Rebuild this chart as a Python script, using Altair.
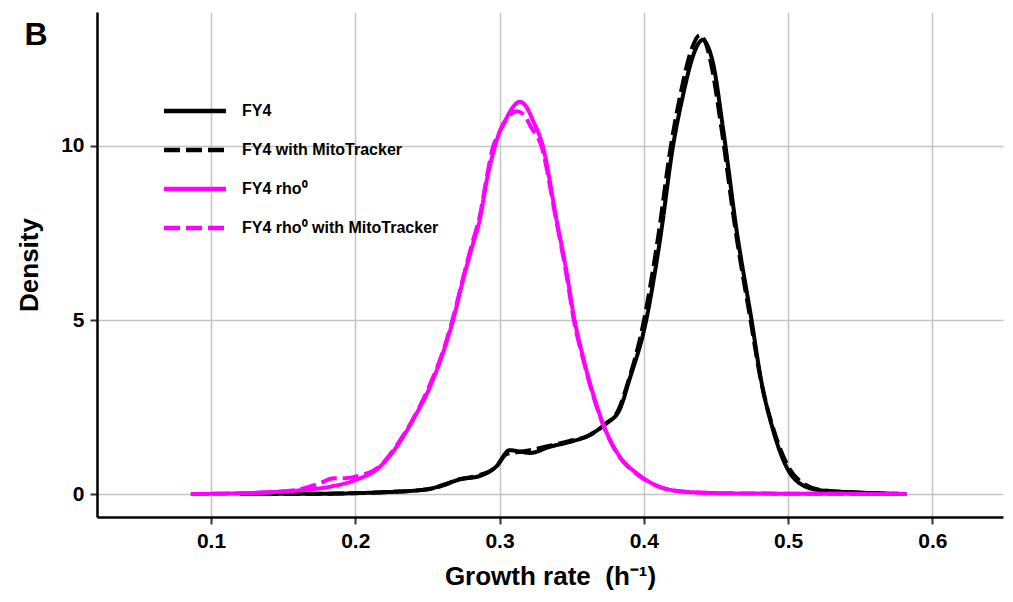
import altair as alt
import pandas as pd

series_names = ["FY4", "FY4 with MitoTracker", "FY4 rho\u2070", "FY4 rho\u2070 with MitoTracker"]
series_colors = ["#000000", "#000000", "#ff00ff", "#ff00ff"]
series_dash = [[1, 0], [16, 6], [1, 0], [16, 6]]

x_ticks = [0.1, 0.2, 0.3, 0.4, 0.5, 0.6]
y_ticks = [0, 5, 10]

# FY4 (solid black)
fy4_x = [0.12, 0.15, 0.18, 0.205, 0.23, 0.242, 0.252, 0.262, 0.2726, 0.2864, 0.298, 0.307,
         0.314, 0.321, 0.335, 0.349, 0.3626, 0.374, 0.383, 0.390, 0.4012, 0.4116, 0.4202,
         0.427, 0.434, 0.438, 0.441, 0.444, 0.448, 0.4551, 0.4643, 0.4747, 0.4813, 0.4896,
         0.4989, 0.508, 0.522, 0.55, 0.582]
fy4_y = [0, 0.005, 0.01, 0.03, 0.07, 0.1, 0.15, 0.28, 0.42, 0.52, 0.8, 1.26,
         1.22, 1.18, 1.36, 1.5, 1.7, 2.03, 2.4, 3.28, 4.9, 7.4, 9.98,
         11.42, 12.57, 12.95, 13.05, 12.9, 12.38, 10.46, 7.59, 5.0, 3.28, 1.84,
         0.78, 0.31, 0.11, 0.04, 0]

# FY4 with MitoTracker (dashed black)
fy4m_x = [0.12, 0.15, 0.18, 0.205, 0.23, 0.242, 0.252, 0.262, 0.27, 0.284, 0.297, 0.305,
          0.312, 0.32, 0.334, 0.348, 0.362, 0.373, 0.382, 0.389, 0.3997, 0.410, 0.4187,
          0.4255, 0.4325, 0.4389, 0.4425, 0.4465, 0.454, 0.4635, 0.474, 0.481, 0.490, 0.5,
          0.51, 0.524, 0.55, 0.582]
fy4m_y = [0, 0.005, 0.01, 0.03, 0.07, 0.1, 0.15, 0.26, 0.4, 0.52, 0.76, 1.15,
          1.2, 1.25, 1.38, 1.52, 1.68, 2.0, 2.38, 3.2, 4.9, 7.4, 9.98,
          11.5, 12.7, 13.19, 13.0, 12.4, 10.46, 7.6, 5.0, 3.3, 1.85, 0.8,
          0.32, 0.11, 0.04, 0]

# FY4 rho0 (solid magenta)
rho_x = [0.086, 0.10, 0.12, 0.14, 0.16, 0.1825, 0.20, 0.217, 0.2287, 0.240, 0.2518, 0.2608,
         0.2677, 0.2747, 0.281, 0.2864, 0.2916, 0.2956, 0.30, 0.3048, 0.309, 0.314, 0.319,
         0.323, 0.330, 0.3396, 0.346, 0.352, 0.3575, 0.3626, 0.3717, 0.3834, 0.395, 0.411,
         0.43, 0.46, 0.50, 0.54, 0.582]
rho_y = [0, 0.005, 0.02, 0.05, 0.1, 0.21, 0.40, 0.78, 1.36, 2.13, 3.08, 4.05,
         4.98, 6.15, 7.1, 7.9, 9.1, 9.8, 10.4, 10.8, 11.1, 11.27, 11.1,
         10.75, 10.0, 7.87, 6.5, 5.0, 4.0, 3.2, 2.03, 1.07, 0.6, 0.21,
         0.06, 0.02, 0.01, 0.005, 0]

# FY4 rho0 with MitoTracker (dashed magenta)
rhom_x = [0.086, 0.10, 0.12, 0.14, 0.16, 0.175, 0.185, 0.192, 0.20, 0.217, 0.2287, 0.240,
          0.2518, 0.2608, 0.2677, 0.2747, 0.281, 0.2864, 0.2916, 0.295, 0.30, 0.304, 0.312,
          0.318, 0.321, 0.329, 0.3396, 0.346, 0.352, 0.3575, 0.3626, 0.3717, 0.3834, 0.395,
          0.411, 0.43, 0.46, 0.50, 0.54, 0.582]
rhom_y = [0, 0.005, 0.02, 0.05, 0.12, 0.3, 0.45, 0.45, 0.5, 0.8, 1.4, 2.15,
          3.15, 4.1, 5.05, 6.2, 7.2, 8.0, 9.2, 9.9, 10.4, 10.7, 11.0,
          10.85, 10.6, 10.0, 7.8, 6.4, 4.9, 3.95, 3.15, 2.0, 1.05, 0.58,
          0.2, 0.06, 0.02, 0.01, 0.005, 0]

rows = []
for name, xs, ys in zip(series_names, [fy4_x, fy4m_x, rho_x, rhom_x], [fy4_y, fy4m_y, rho_y, rhom_y]):
    for xv, yv in zip(xs, ys):
        rows.append({"series": name, "rate": xv, "density": yv})
df = pd.DataFrame(rows)

FONT = "Liberation Sans"

legend_def = alt.Legend(
    title=None,
    orient="none",
    legendX=88,
    legendY=89,
    padding=0,
    symbolType="M-4,0H4",
    symbolSize=240,
    symbolStrokeWidth=4.5,
    labelOffset=37,
    labelFont=FONT,
    labelFontSize=16,
    labelFontWeight="bold",
    labelColor="#000000",
    rowPadding=20,
    labelLimit=400,
)

lines = alt.Chart(df).mark_line(strokeWidth=4, interpolate="monotone", strokeCap="butt").encode(
    x=alt.X("rate:Q",
            scale=alt.Scale(domain=[0.021, 0.649], nice=False, zero=False),
            axis=alt.Axis(values=x_ticks, format=".1f", title="Growth rate\u00a0 (h\u207b\u00b9)")),
    y=alt.Y("density:Q",
            scale=alt.Scale(domain=[-0.66, 13.85], nice=False, zero=False),
            axis=alt.Axis(values=y_ticks, format="d", title="Density")),
    color=alt.Color("series:N", sort=series_names,
                    scale=alt.Scale(domain=series_names, range=series_colors),
                    legend=legend_def),
    strokeDash=alt.StrokeDash("series:N", sort=series_names,
                              scale=alt.Scale(domain=series_names, range=series_dash),
                              legend=legend_def),
)

panel = alt.Chart(pd.DataFrame({"label": ["B"]})).mark_text(
    font=FONT, fontSize=32, fontWeight="bold", align="center", baseline="middle", color="#000000"
).encode(text="label:N", x=alt.value(-61), y=alt.value(23))

chart = alt.layer(lines, panel).properties(
    width=906, height=505, autosize="none",
    padding={"left": 89, "top": 4, "right": 2, "bottom": 77},
    background="#ffffff",
).configure_view(stroke=None).configure_axis(
    labelFont=FONT, labelFontSize=21, labelFontWeight="bold", labelColor="#000000",
    titleFont=FONT, titleFontSize=26, titleFontWeight="bold", titleColor="#000000",
    domainColor="#000000", domainWidth=2.5,
    tickColor="#333333", tickWidth=2, tickSize=7,
    gridColor="#c4c4c4", gridWidth=1.5,
    labelPadding=6,
).configure_axisY(titlePadding=18).configure_axisX(titlePadding=12)

chart.save("out.html", embed_options={"renderer": "svg", "actions": False})
